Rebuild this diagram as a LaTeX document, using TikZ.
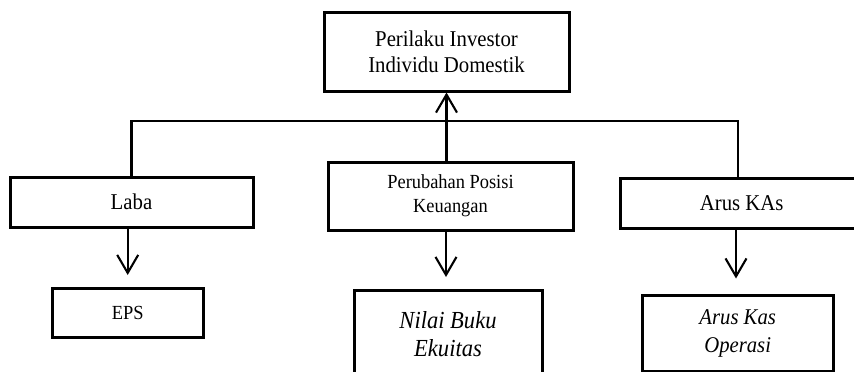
\documentclass[tikz,border=0pt]{standalone}
\usepackage{fontspec}
\setmainfont{Liberation Serif}[FakeStretch=0.92]
\usetikzlibrary{arrows.meta,calc}
\begin{document}
\begin{tikzpicture}[x=1pt,y=-1pt,
  box/.style={draw=black,line width=3pt,inner sep=0pt,align=center,fill=none},
  conn/.style={line width=2.1pt},
  arr/.style={line width=2.1pt,-{Straight Barb[length=18pt,width=21pt,line width=2.1pt]}},
  big/.style={font=\fontsize{22.6}{26}\selectfont},
  small/.style={font=\fontsize{20}{24}\selectfont},
  ital/.style={font=\fontsize{#1}{28}\selectfont\itshape}
]
\useasboundingbox (0,0) rectangle (854,372);
\node[box,big,minimum width=245pt,minimum height=79pt] (top) at (446.5,51.5) {Perilaku Investor\\Individu Domestik};
\node[box,big,minimum width=243pt,minimum height=50pt] (laba) at (131.5,202) {Laba};
\node[box,small,minimum width=245pt,minimum height=68pt] (pos) at (450.5,196) {Perubahan Posisi\\Keuangan};
\node[box,big,minimum width=243pt,minimum height=50pt] (arus) at (741.7,203) {Arus KAs};
\node[box,small,minimum width=151pt,minimum height=49pt] (eps) at (127.7,312.5) {EPS};
\node[box,ital=24.5,minimum width=188pt,minimum height=88pt] (nilai) at (448,334) {Nilai Buku\\Ekuitas};
\node[box,ital=22.5,minimum width=191pt,minimum height=76pt] (kas) at (737.7,333) {Arus Kas\\Operasi};
\coordinate (jR) at (738,121);
\coordinate (tEps) at (127.7,275);
\coordinate (tNil) at (446,277);
\coordinate (tKas) at (736,278.5);
\draw[conn] (laba.north) |- (jR) -- (jR |- arus.north);
\draw[arr] (top.south |- pos.north) -- (top.south);
\draw[arr] (tEps |- laba.south) -- (tEps);
\draw[arr] (tNil |- pos.south) -- (tNil);
\draw[arr] (tKas |- arus.south) -- (tKas);
\end{tikzpicture}
\end{document}
